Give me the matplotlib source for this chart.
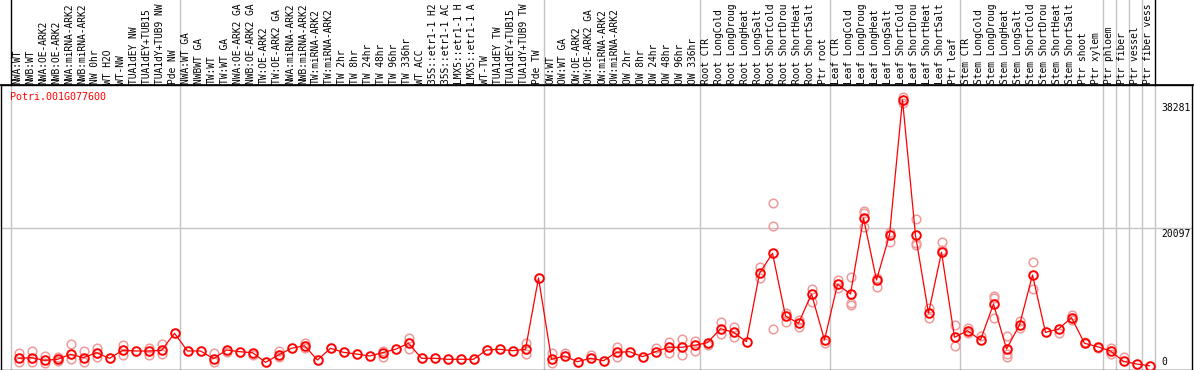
import numpy as np
import matplotlib
matplotlib.use("Agg")
from matplotlib import pyplot as plt
from matplotlib import transforms

# sample names, one column each
grp_nw = ["NWA:WT", "NWB:WT", "NWA:OE-ARK2", "NWB:OE-ARK2", "NWA:miRNA-ARK2",
          "NWB:miRNA-ARK2", "NW 0hr", "WT H2O", "WT-NW", "TUA1dEY NW",
          "TUA1dEY+TUB15 NW", "TUA1dY+TUB9 NW", "Pde NW"]
grp_tw = ["NWA:WT GA", "NWBWT GA", "TW:WT", "TW:WT GA", "NWA:OE-ARK2 GA",
          "NWB:OE-ARK2 GA", "TW:OE-ARK2", "TW:OE-ARK2 GA", "NWA:miRNA-ARK2 GA",
          "NWB:miRNA-ARK2 GA", "TW:miRNA-ARK2", "TW:miRNA-ARK2 GA", "TW 2hr",
          "TW 8hr", "TW 24hr", "TW 48hr", "TW 96hr", "TW 336hr", "WT ACC",
          "35S::etr1-1 H2O", "35S::etr1-1 ACC", "LMX5::etr1-1 H2O",
          "LMX5::etr1-1 ACC", "WT-TW", "TUA1dEY TW", "TUA1dEY+TUB15 TW",
          "TUA1dY+TUB9 TW", "Pde TW"]
grp_ow = ["OW:WT", "OW:WT GA", "OW:OE-ARK2", "OW:OE-ARK2 GA", "OW:miRNA-ARK2",
          "OW:miRNA-ARK2 GA", "OW 2hr", "OW 8hr", "OW 24hr", "OW 48hr",
          "OW 96hr", "OW 336hr"]
stress = ["CTR", "LongCold", "LongDrought", "LongHeat", "LongSalt",
          "ShortCold", "ShortDrought", "ShortHeat", "ShortSalt"]
grp_root = ["Root " + s for s in stress] + ["Ptr root"]
grp_leaf = ["Leaf " + s for s in stress] + ["Ptr leaf"]
grp_stem = ["Stem " + s for s in stress] + ["Ptr shoot", "Ptr xylem"]
grp_tissue = ["Ptr phloem", "Ptr fiber", "Ptr vessel", "Ptr fiber vessel"]
groups = [grp_nw, grp_tw, grp_ow, grp_root, grp_leaf, grp_stem] + [[t] for t in grp_tissue]
labels = [name for g in groups for name in g]

# mean expression per sample
means = [1590, 1680, 1300, 1450, 2160, 1680, 2390, 1590, 2720, 2630,
         2630, 2720, 5140, 2630, 2630, 1540, 2770, 2530, 2390, 1020,
         2060, 3010, 3380, 1350, 3010, 2440, 2200, 1920, 2390, 2870,
         3720, 1590, 1590, 1450, 1450, 1450, 2770, 2870, 2670, 2870,
         13000, 1450, 1920, 1110, 1590, 1250, 2440, 2530, 1820, 2530,
         3150, 3150, 3430, 3810, 5800, 5280, 3950, 13660, 16500, 7600,
         6560, 10720, 4190, 12100, 10720, 21500, 12710, 19100, 38281, 19050,
         8000, 16640, 4570, 5510, 4190, 9300, 2910, 6320, 13420, 5280,
         5750, 7360, 3720, 3240, 2630, 1160, 780, 540]

# replicate values (column index, value)
rep_idx = [0, 0, 1, 1, 2, 2, 3, 3, 4, 4, 5, 5, 6, 6, 8, 8, 10, 10, 11, 11,
           15, 15, 16, 18, 20, 20, 22, 22, 28, 28, 30, 30, 39, 39, 41, 41, 42, 44,
           46, 46, 49, 50, 50, 51, 51, 52, 52, 53, 54, 54, 55, 55, 57, 57,
           58, 58, 58, 59, 59, 60, 60, 61, 61, 62, 63, 63, 64, 64, 64,
           65, 65, 65, 66, 66, 67, 67, 68, 68, 69, 69, 69, 70, 70, 71, 71,
           72, 72, 73, 73, 74, 75, 75, 75, 76, 76, 76, 77, 77, 78, 78,
           80, 81, 81, 82, 83, 84, 84, 85]
rep_val = [2390, 1110, 2630, 1110, 1920, 970, 1820, 1210, 3620, 1450, 2630, 1110,
           3010, 1820, 3480, 2060, 3010, 2060, 3620, 2200,
           2390, 1110, 2530, 2060, 2670, 1820, 3810, 3010, 2670, 1730, 4430, 2870,
           3810, 2200, 2300, 970, 2300, 2060,
           3240, 1730, 3010, 3950, 2390, 4290, 2060, 4050, 2630, 3480, 6700, 5040,
           6080, 4570, 14600, 12950,
           23600, 20380, 5710, 8070, 6790, 7030, 6080, 11390, 9630, 3720, 12710, 11530,
           13180, 9400, 9160,
           22550, 22180, 20280, 12950, 11760, 19570, 18150, 38740, 37800,
           21330, 18010, 17680, 8800, 7300, 18150, 17000,
           6320, 3380, 5850, 5140, 4760, 10480, 10110, 7270, 4760, 2200, 1820,
           6930, 5850, 15220, 11390,
           5140, 7740, 7030, 3950, 3010, 3010, 2200, 1730]

ytick_vals = [0, 20097, 38281]
gene = "Potri.001G077600"

W, H = 1194, 370
fig = plt.figure(figsize=(W / 100, H / 100), dpi=100)
ax = fig.add_axes([1 / W, (H - 369.5) / H, 1191 / W, 284.5 / H])

x = np.arange(len(labels))
ax.set_xlim(-(18.5 - 1) / 13, (1192 - 18.5) / 13)
ax.set_ylim(0, 40400)
ax.set_xticks([])
ax.set_yticks([])
for sp in ax.spines.values():
    sp.set_color("black")
    sp.set_linewidth(1)

grey = "#c4c4c4"
# group separators
bounds = np.cumsum([0] + [len(g) for g in groups])
for b in bounds:
    ax.axvline(b - 0.6, color=grey, lw=1, zorder=1)
ax.axhline(ytick_vals[1], color=grey, lw=1, zorder=1)

ax.plot(rep_idx, rep_val, linestyle="none", marker="o", ms=6.2, mfc="none",
        mec="#f09a9a", mew=1.1, zorder=2)
ax.plot(x, means, color="red", lw=0.9, zorder=3)
ax.plot(x, means, linestyle="none", marker="o", ms=6.2, mfc="none",
        mec="red", mew=1.4, zorder=4)

mono = "DejaVu Sans Mono"
fs = 7.0

# column labels above plot (only what fits in the header strip)
lab_tr = transforms.blended_transform_factory(ax.transData, fig.transFigure)
for i, name in enumerate(labels):
    ax.text(i - 0.1, (H - 84) / H, name[:14], transform=lab_tr, rotation=90,
            ha="center", va="bottom", fontsize=6.9, family=mono, clip_on=False)
# header strip borders
for xb in bounds:
    c = "black" if xb in (bounds[0], bounds[-1]) else grey
    ax.plot([xb - 0.6, xb - 0.6], [(H - 85) / H, 1], transform=lab_tr, color=c,
            lw=1, clip_on=False)
fig.add_artist(plt.Line2D([0, 1], [(H - 85) / H, (H - 85) / H], color="black", lw=1.2))

fig.text(10 / W, (H - 97) / H, gene, color="red", fontsize=7.2, family=mono,
         ha="left", va="center")

# value labels on the right, left-aligned in one column
yt = transforms.blended_transform_factory(fig.transFigure, ax.transData)
ax.text(1161 / W, ytick_vals[2], str(ytick_vals[2]), ha="left", va="top",
        fontsize=fs, family=mono,
        transform=transforms.offset_copy(yt, fig=fig, y=-2.5, units="points"))
ax.text(1161 / W, ytick_vals[1], str(ytick_vals[1]), ha="left", va="top",
        fontsize=fs, family=mono,
        transform=transforms.offset_copy(yt, fig=fig, y=-0.5, units="points"))
ax.text(1161 / W, ytick_vals[0], str(ytick_vals[0]), ha="left", va="bottom",
        fontsize=fs, family=mono,
        transform=transforms.offset_copy(yt, fig=fig, y=2.0, units="points"))

fig.savefig("out.png", dpi=100)
